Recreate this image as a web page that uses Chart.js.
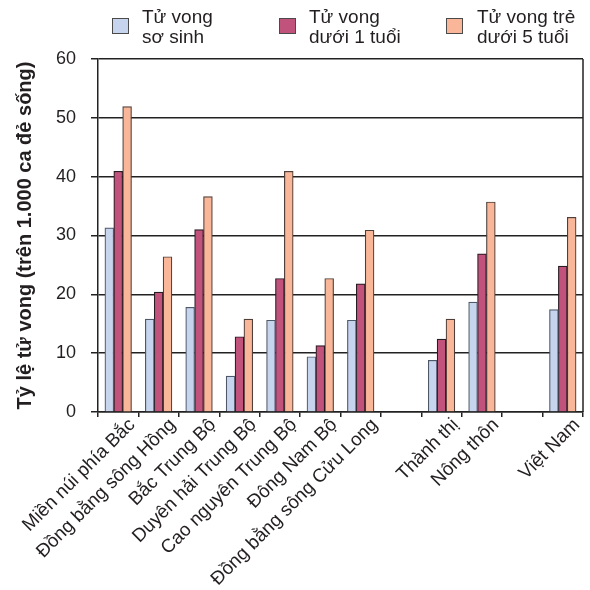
<!DOCTYPE html>
<html>
<head>
<meta charset="utf-8">
<script src="https://cdn.jsdelivr.net/npm/chart.js@4.4.0/dist/chart.umd.min.js"></script>
<style>
  html, body { margin: 0; padding: 0; background: #fff; }
  #wrap { position: relative; width: 590px; height: 590px; }
  #c { position: absolute; left: 0; top: 0; }
  .leg-item { position: absolute; font-family: "Liberation Sans", Arial, sans-serif; font-size: 19px; line-height: 20px; color: #231f20; white-space: nowrap; }
  .leg-box { position: absolute; width: 15px; height: 14px; border: 1px solid #4a4a4a; }
</style>
</head>
<body>
<div id="wrap">
  <canvas id="c" width="590" height="590"></canvas>
  <div id="legend"></div>
</div>
<script>
// Regions, urban/rural and national figures; blank labels leave gaps between groups
const categories = [
  'Miền núi phía Bắc', 'Đồng bằng sông Hồng', 'Bắc Trung Bộ', 'Duyên hải Trung Bộ',
  'Cao nguyên Trung Bộ', 'Đông Nam Bộ', 'Đồng bằng sông Cửu Long', '',
  'Thành thị', 'Nông thôn', '', 'Việt Nam'
];

// Deaths per 1,000 live births
const neonatal   = [31.3, 15.8, 17.8,  6.1, 15.6,  9.4, 15.6, null,  8.8, 18.7, null, 17.4];
const infant     = [40.9, 20.4, 31.0, 12.8, 22.7, 11.3, 21.8, null, 12.4, 26.9, null, 24.8];
const underFive  = [51.9, 26.4, 36.6, 15.8, 40.9, 22.7, 30.9, null, 15.8, 35.7, null, 33.1];

const seriesLines = [
  ['Tử vong', 'sơ sinh'],
  ['Tử vong', 'dưới 1 tuổi'],
  ['Tử vong trẻ', 'dưới 5 tuổi']
];
const seriesFill   = ['#c6d4ee', '#c0527c', '#f9b698'];
const seriesBorder = ['#4f5868', '#2a1b22', '#4e3f39'];

const yTicks = [0, 10, 20, 30, 40, 50, 60];
const yTitle = 'Tỷ lệ tử vong (trên 1.000 ca đẻ sống)';

const ink = '#231f20';
const lineCol = '#222222';
const font = '"Liberation Sans", Arial, sans-serif';

// Legend (two-line labels) above the plot
const legendPos = [
  { box: [112, 18], text: [142, 7] },
  { box: [279, 18], text: [309, 7] },
  { box: [446, 18], text: [477, 7] }
];
const legendEl = document.getElementById('legend');
seriesLines.forEach((lines, i) => {
  const b = document.createElement('div');
  b.className = 'leg-box';
  b.style.left = legendPos[i].box[0] + 'px';
  b.style.top = legendPos[i].box[1] + 'px';
  b.style.background = seriesFill[i];
  legendEl.appendChild(b);
  const t = document.createElement('div');
  t.className = 'leg-item';
  t.style.left = legendPos[i].text[0] + 'px';
  t.style.top = legendPos[i].text[1] + 'px';
  t.innerHTML = lines.join('<br>');
  legendEl.appendChild(t);
});

// Closing line on the right edge of the plot
const rightFrame = {
  id: 'rightFrame',
  afterDraw(chart) {
    const { ctx, chartArea } = chart;
    ctx.save();
    ctx.strokeStyle = lineCol;
    ctx.lineWidth = 1.5;
    const x = Math.round(chartArea.right);
    ctx.beginPath();
    ctx.moveTo(x, chartArea.top);
    ctx.lineTo(x, chartArea.bottom);
    ctx.stroke();
    ctx.restore();
  }
};

const series = [neonatal, infant, underFive];

new Chart(document.getElementById('c'), {
  type: 'bar',
  data: {
    labels: categories,
    datasets: series.map((d, i) => ({
      label: seriesLines[i].join(' '),
      data: d,
      backgroundColor: seriesFill[i],
      borderColor: seriesBorder[i],
      borderWidth: 1.2,
      inflateAmount: 0.3,
      categoryPercentage: 0.66,
      barPercentage: 1.0
    }))
  },
  options: {
    responsive: false,
    animation: false,
    devicePixelRatio: 1,
    layout: { padding: { top: 59, right: 7, bottom: 0, left: 0 } },
    plugins: {
      legend: { display: false },
      tooltip: { enabled: false }
    },
    scales: {
      x: {
        offset: true,
        grid: {
          display: true,
          offset: true,
          drawOnChartArea: false,
          drawTicks: true,
          tickLength: 5,
          color: lineCol,
          lineWidth: 1.5
        },
        border: { display: true, color: lineCol, width: 1.5 },
        ticks: {
          autoSkip: false,
          minRotation: 45,
          maxRotation: 45,
          padding: -3,
          labelOffset: 14,
          color: ink,
          font: { family: font, size: 18.8 }
        },
        afterFit(scale) { scale.height = 178; }
      },
      y: {
        min: 0,
        max: 60,
        afterBuildTicks(scale) { scale.ticks = yTicks.map(v => ({ value: v })); },
        grid: {
          display: true,
          drawOnChartArea: true,
          drawTicks: true,
          tickLength: 7,
          color: lineCol,
          lineWidth: 1.5
        },
        border: { display: true, color: lineCol, width: 1.5 },
        ticks: {
          padding: 15,
          color: ink,
          font: { family: font, size: 18 }
        },
        title: {
          display: true,
          text: yTitle,
          color: ink,
          padding: { top: 13, bottom: 0 },
          font: { family: font, size: 20, weight: 'bold' }
        },
        afterFit(scale) { scale.width = 98; }
      }
    }
  },
  plugins: [rightFrame]
});
</script>
</body>
</html>
